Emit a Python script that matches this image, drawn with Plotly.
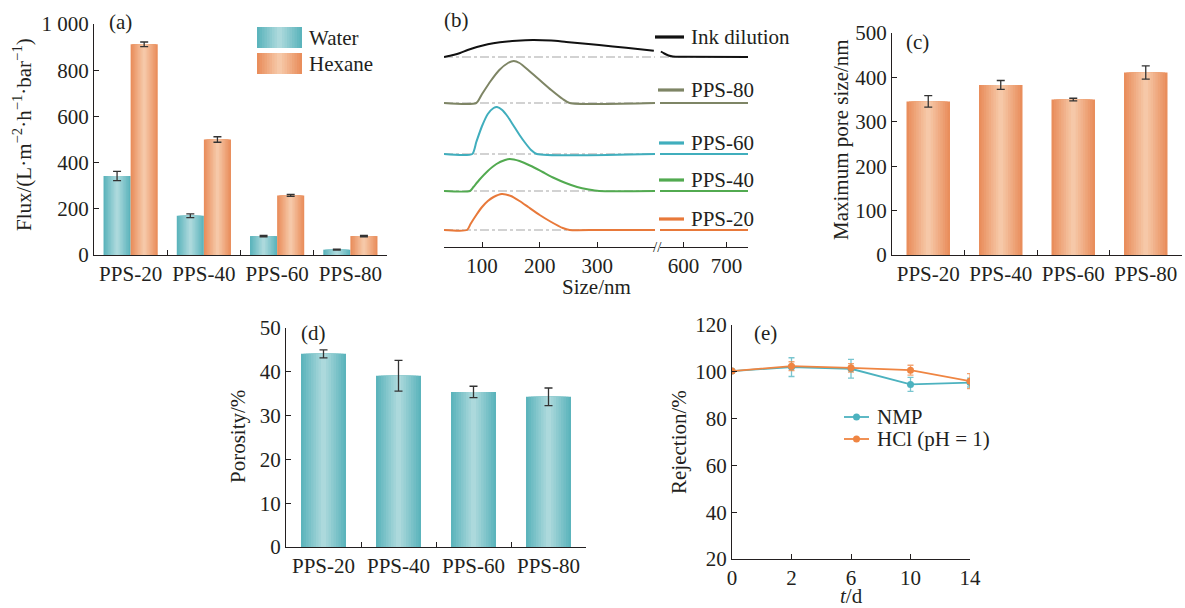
import plotly.graph_objects as go

W, H = 1185, 608
FONT = "Liberation Serif"
TXT = "#231f20"
FS = 21

# ---------------- data ----------------
categories = ["PPS-20", "PPS-40", "PPS-60", "PPS-80"]
water_flux = [342, 170, 82, 23]
water_err = [20, 8, 3, 2]
hexane_flux = [912, 500, 258, 82]
hexane_err = [10, 12, 4, 3]

max_pore = [346, 383, 350, 411]
max_pore_err = [13, 10, 3, 15]

porosity = [44.1, 39.1, 35.4, 34.3]
porosity_err = [0.9, 3.5, 1.3, 2.0]

days = ["0", "2", "6", "10", "14"]
rej_nmp = [100.3, 102.0, 101.3, 94.6, 95.4]
rej_nmp_err = [0.5, 4.0, 4.0, 3.0, 1.9]
rej_hcl = [100.3, 102.4, 101.7, 100.7, 96.0]
rej_hcl_err = [0.6, 1.9, 1.8, 2.1, 3.2]

# size distributions (panel b), intensity in arbitrary units
dist_names = ["PPS-20", "PPS-40", "PPS-60", "PPS-80", "Ink dilution"]
dist_offsets = [17, 56, 93, 144, 190]
pps20_size = [34, 74, 80, 90, 100, 110, 120, 134, 150, 165, 180, 200, 220, 240, 252, 300, 400]
pps20_int = [0, 0, 6, 15, 23, 29, 33, 36, 34, 29, 23, 15, 8, 2, 0, 0, 0]
pps40_size = [34, 79, 85, 95, 110, 125, 140, 148, 165, 185, 205, 225, 245, 265, 285, 303, 400]
pps40_int = [0, 0, 4, 11, 20, 27, 31, 32, 30, 25, 19, 13, 8, 4, 1.5, 0, 0]
pps60_size = [34, 83, 90, 100, 110, 120, 126, 135, 145, 155, 165, 175, 185, 195, 400]
pps60_int = [0, 0, 12, 28, 40, 46, 47, 44, 37, 28, 19, 11, 4, 0, 0]
pps80_size = [34, 90, 100, 115, 130, 145, 155, 165, 180, 200, 220, 240, 252, 400]
pps80_int = [0, 0, 9, 22, 33, 40, 42, 40, 33, 23, 13, 4, 0, 0]
ink_size = [34, 50, 62, 75, 91, 110, 131, 160, 188, 220, 246, 275, 303, 350, 398]
ink_int = [0, 2, 4, 7, 10, 12.8, 14.7, 16.3, 17, 16.4, 15, 13.5, 12, 9.2, 6.3]
pps_right_size = [545, 750]
pps_right_int = [0, 0]
ink_right_size = [547, 555, 565, 575, 600, 750]
ink_right_int = [5.5, 3.5, 1.5, 0.5, 0.2, 0]

dist_left = [(pps20_size, pps20_int), (pps40_size, pps40_int), (pps60_size, pps60_int),
             (pps80_size, pps80_int), (ink_size, ink_int)]
dist_right = [(pps_right_size, pps_right_int)] * 4 + [(ink_right_size, ink_right_int)]
dist_colors = ["#e8793a", "#52aa50", "#40aebd", "#7e8565", "#111111"]

# ---------------- helpers ----------------
def dx(x0, x1):
    return [x0 / W, x1 / W]

def dy(top, bottom):
    return [1 - bottom / H, 1 - top / H]

def px(x):
    return x / W

def py(y):
    return 1 - y / H

def hex2rgb(h):
    h = h.lstrip("#")
    return tuple(int(h[i:i + 2], 16) for i in (0, 2, 4))

def mix(c1, c2, t):
    a, b = hex2rgb(c1), hex2rgb(c2)
    return "rgb(%d,%d,%d)" % tuple(round(a[i] + (b[i] - a[i]) * t) for i in range(3))

WATER_EDGE, WATER_CEN = "#5cb4bc", "#acd9dc"
HEX_EDGE, HEX_CEN = "#e98e5c", "#f6c8a8"

fig = go.Figure()

def grad_bars(x, y, off, width, edge, cen, xa, ya, err, n=9):
    for k in range(n):
        t = k / (n - 1)
        w = width * (1 - k / n)
        o = off + (width - w) / 2
        fig.add_trace(go.Bar(x=x, y=y, offset=o, width=w,
                             marker=dict(color=mix(edge, cen, t), line=dict(width=0)),
                             xaxis=xa, yaxis=ya, showlegend=False, hoverinfo="skip"))
    fig.add_trace(go.Bar(x=x, y=y, offset=off, width=width,
                         marker=dict(color="rgba(0,0,0,0)", line=dict(width=0)),
                         error_y=dict(type="data", array=err, color="#333333",
                                      thickness=1.3, width=4),
                         xaxis=xa, yaxis=ya, showlegend=False))

# ---------------- panel (a) ----------------
grad_bars(categories, water_flux, -0.37, 0.37, WATER_EDGE, WATER_CEN, "x", "y", water_err)
grad_bars(categories, hexane_flux, 0.0, 0.37, HEX_EDGE, HEX_CEN, "x", "y", hexane_err)

# ---------------- panel (b) ----------------
L_RANGE = [34, 400]
R_RANGE = [545, 750]
for off in dist_offsets:
    for xa, rng in (("x2", L_RANGE), ("x3", R_RANGE)):
        fig.add_trace(go.Scatter(x=rng, y=[off, off], mode="lines",
                                 line=dict(color="#c4c4c4", width=1.3, dash="dashdot"),
                                 xaxis=xa, yaxis="y2", showlegend=False, hoverinfo="skip"))
for (ls, li), (rs, ri), off, col in zip(dist_left, dist_right, dist_offsets, dist_colors):
    fig.add_trace(go.Scatter(x=ls, y=[v + off for v in li], mode="lines",
                             line=dict(color=col, width=2, shape="spline", smoothing=0.6),
                             xaxis="x2", yaxis="y2", showlegend=False))
    fig.add_trace(go.Scatter(x=rs, y=[v + off for v in ri], mode="lines",
                             line=dict(color=col, width=2, shape="spline", smoothing=0.6),
                             xaxis="x3", yaxis="y2", showlegend=False))

# ---------------- panel (c) ----------------
grad_bars(categories, max_pore, -0.3, 0.6, HEX_EDGE, HEX_CEN, "x4", "y4", max_pore_err)

# ---------------- panel (d) ----------------
grad_bars(categories, porosity, -0.3, 0.6, WATER_EDGE, WATER_CEN, "x5", "y5", porosity_err)

# ---------------- panel (e) ----------------
NMP_C = "#4cb2bf"
HCL_C = "#ef8542"
fig.add_trace(go.Scatter(x=days, y=rej_nmp, mode="lines+markers",
                         line=dict(color=NMP_C, width=1.8), marker=dict(size=7, color=NMP_C),
                         error_y=dict(type="data", array=rej_nmp_err, color="rgba(76,178,191,0.75)",
                                      thickness=1.3, width=3),
                         xaxis="x6", yaxis="y6", showlegend=False))
fig.add_trace(go.Scatter(x=days, y=rej_hcl, mode="lines+markers",
                         line=dict(color=HCL_C, width=1.8), marker=dict(size=7, color=HCL_C),
                         error_y=dict(type="data", array=rej_hcl_err, color="rgba(239,133,66,0.75)",
                                      thickness=1.3, width=3),
                         xaxis="x6", yaxis="y6", showlegend=False))

# ---------------- axes ----------------
tf = dict(family=FONT, size=FS, color=TXT)
base = dict(showline=True, linecolor=TXT, linewidth=1.3, showgrid=False, zeroline=False,
            ticks="inside", ticklen=5, tickwidth=1.2, tickcolor=TXT, tickfont=tf,
            fixedrange=True, automargin=False)

fig.update_layout(
    width=W, height=H, margin=dict(l=0, r=0, t=0, b=0, autoexpand=False),
    paper_bgcolor="white", plot_bgcolor="rgba(0,0,0,0)",
    barmode="overlay", showlegend=False,
    font=dict(family=FONT, size=FS, color=TXT),
    # (a)
    xaxis=dict(base, domain=dx(94, 387), type="category", range=[-0.5, 3.5],
               tickson="boundaries", anchor="y"),
    yaxis=dict(base, domain=dy(24, 255), range=[0, 1000],
               tickvals=[0, 200, 400, 600, 800, 1000],
               ticktext=["0", "200", "400", "600", "800", "1 000"], anchor="x"),
    # (b)
    xaxis2=dict(base, domain=dx(444, 655), range=L_RANGE,
                tickvals=[100, 200, 300], anchor="y2"),
    xaxis3=dict(base, domain=dx(660, 748), range=R_RANGE,
                tickvals=[600, 700], anchor="y2"),
    yaxis2=dict(domain=dy(30, 247), range=[0, 217], visible=False, anchor="x2",
                fixedrange=True, automargin=False),
    # (c)
    xaxis4=dict(base, domain=dx(892, 1182), type="category", range=[-0.5, 3.5],
                tickson="boundaries", anchor="y4"),
    yaxis4=dict(base, domain=dy(33, 255), range=[0, 500], dtick=100, anchor="x4"),
    # (d)
    xaxis5=dict(base, domain=dx(286, 586), type="category", range=[-0.5, 3.5],
                tickson="boundaries", anchor="y5"),
    yaxis5=dict(base, domain=dy(328, 547), range=[0, 50], dtick=10, anchor="x5"),
    # (e)
    xaxis6=dict(base, domain=dx(732, 970), type="category", range=[0, 4], anchor="y6"),
    yaxis6=dict(base, domain=dy(325, 559), range=[20, 120], dtick=20, anchor="x6"),
)

# ---------------- annotations ----------------
ann = []

def text(x, y, s, xanchor="center", yanchor="middle", angle=0, size=FS):
    ann.append(dict(x=px(x), y=py(y), xref="paper", yref="paper", text=s, showarrow=False,
                    xanchor=xanchor, yanchor=yanchor, textangle=angle,
                    font=dict(family=FONT, size=size, color=TXT)))

# panel labels
text(120, 22, "(a)")
text(456, 20, "(b)")
text(917, 42, "(c)")
text(313, 333, "(d)")
text(765, 333, "(e)")

# axis titles
text(22, 135, "Flux/(L·m<sup>−2</sup>·h<sup>−1</sup>·bar<sup>−1</sup>)", angle=-90)
text(841, 140, "Maximum pore size/nm", angle=-90)
text(238, 437, "Porosity/%", angle=-90)
text(679, 442, "Rejection/%", angle=-90)
text(596, 287, "Size/nm")
text(851, 596, "<i>t</i>/d")
text(657, 247, "//", size=15)

# legend (a)
shapes = []
def grad_rect(x0, y0, x1, y1, edge, cen, n=9):
    wid = x1 - x0
    for k in range(n):
        t = k / (n - 1)
        w = wid * (1 - k / n)
        a = x0 + (wid - w) / 2
        shapes.append(dict(type="rect", xref="paper", yref="paper",
                           x0=px(a), x1=px(a + w), y0=py(y1), y1=py(y0),
                           fillcolor=mix(edge, cen, t), line=dict(width=0)))

grad_rect(257, 27, 302, 48, WATER_EDGE, WATER_CEN)
grad_rect(257, 53, 302, 74, HEX_EDGE, HEX_CEN)
text(307, 38, "Water", xanchor="left")
text(307, 64, "Hexane", xanchor="left")

# legend (b)
leg_b = [("Ink dilution", 37, dist_colors[4], 655),
         ("PPS-80", 90, dist_colors[3], 658),
         ("PPS-60", 143, dist_colors[2], 659),
         ("PPS-40", 180, dist_colors[1], 659),
         ("PPS-20", 219, dist_colors[0], 659)]
for name, yy, col, x0 in leg_b:
    shapes.append(dict(type="line", xref="paper", yref="paper", x0=px(x0), x1=px(684),
                       y0=py(yy), y1=py(yy), line=dict(color=col, width=3.2)))
    text(689, yy, name, xanchor="left")

# legend (e)
for name, yy, col in (("NMP", 417, NMP_C), ("HCl (pH = 1)", 439, HCL_C)):
    shapes.append(dict(type="line", xref="paper", yref="paper", x0=px(844), x1=px(869),
                       y0=py(yy), y1=py(yy), line=dict(color=col, width=1.8)))
    shapes.append(dict(type="circle", xref="paper", yref="paper",
                       xsizemode="pixel", ysizemode="pixel",
                       xanchor=px(856.5), yanchor=py(yy), x0=-3.5, x1=3.5, y0=-3.5, y1=3.5,
                       fillcolor=col, line=dict(width=0)))
    text(875, yy, name, xanchor="left")

fig.update_layout(annotations=ann, shapes=shapes)
fig.write_html(
    "out.html",
    config={"displayModeBar": False, "responsive": False},
    post_script="document.body.style.margin='0';document.body.style.overflow='hidden';",
)
